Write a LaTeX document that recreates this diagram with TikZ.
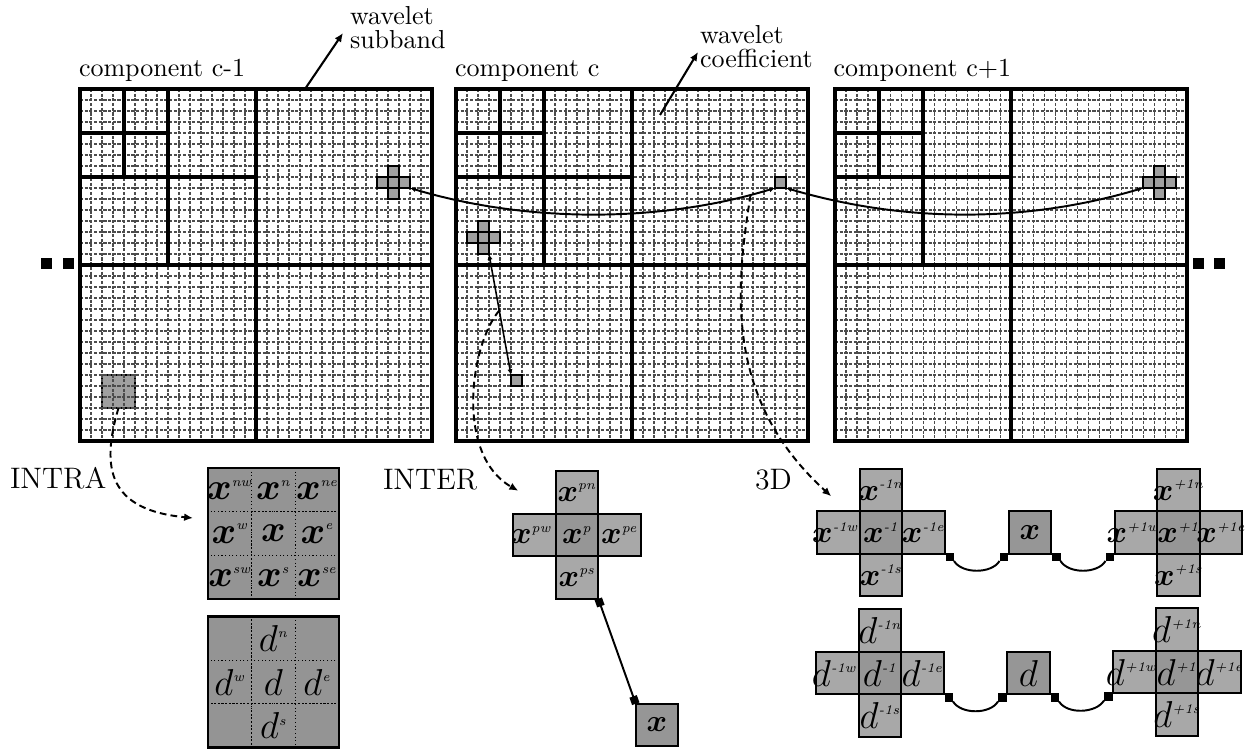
\documentclass[tikz,border=0pt]{standalone}
\usepackage{amsmath}
\usetikzlibrary{arrows.meta}

% one drawing unit = one pixel of a 1248 x 750 sheet, y grows downwards
\def\pxu{0.3846pt}
\newcommand\sps[1]{\mbox{\fontsize{5.2}{6}\selectfont\itshape #1}}
\newcommand\bx[1]{$\boldsymbol{x}^{\sps{#1}}$}
\newcommand\bd[1]{$d^{\sps{#1}}$}

\definecolor{cellhi}{RGB}{168,168,168}
\definecolor{cellmid}{RGB}{150,150,150}
\definecolor{intrafill}{RGB}{148,148,148}
\definecolor{smallcell}{RGB}{160,160,160}

\tikzset{
  every node/.style={inner sep=0pt, outer sep=0pt},
  panelbox/.style={draw, line width=1.7pt, minimum size={352*\pxu}},
  gridln/.style={black!70, line width=0.4pt, dash pattern=on 1.2pt off 0.6pt},
  subband/.style={line width=1.3pt},
  pcell/.style={draw, line width=0.55pt, fill=smallcell, minimum size={11*\pxu}},
  bigcell/.style={draw, line width=0.8pt, fill=cellhi, minimum size={42.5*\pxu}, font=\fontsize{13}{15}\selectfont},
  midcell/.style={bigcell, fill=cellmid},
  xcell/.style={font=\fontsize{12.3}{15}\selectfont},
  dcell/.style={font=\fontsize{14}{17}\selectfont},
  intracell/.style={draw, densely dotted, line width=0.4pt, fill=intrafill, minimum size={43.67*\pxu}, font=\fontsize{15.5}{18}\selectfont},
  intraframe/.style={draw, line width=0.9pt, minimum size={131*\pxu}},
  knob/.style={fill, minimum size={8.5*\pxu}},
  dotbox/.style={fill, minimum size={11*\pxu}},
  tiptwo/.style={{Latex[length=2.2pt,width=2pt]}-{Latex[length=2.2pt,width=2pt]}},
  link/.style={line width=0.75pt},
  finelink/.style={line width=0.6pt},
  sqends/.style={{Square[length=3pt,width=3pt]}-{Square[length=3pt,width=3pt]}},
  dashlink/.style={line width=0.75pt, dash pattern=on 2.6pt off 1.6pt, -{Latex[length=3.4pt,width=3pt]}},
  callout/.style={line width=0.8pt, -{Latex[length=3.4pt,width=3pt]}},
  caption/.style={font=\fontsize{11.4}{13}\selectfont, anchor=base west},
  comptitle/.style={anchor=base west},
  twoline/.style={anchor=north west, align=left, font=\fontsize{10}{9.3}\selectfont},
}

% grid of 32 x 32 coefficients with three decomposition levels
\newcommand\wavepanel[2]{%
  \foreach \k in {1,...,31}{
    \draw[gridln] (#2+\k*11, 89) -- (#2+\k*11, 441);
    \draw[gridln] (#2, 89+\k*11) -- (#2+352, 89+\k*11);
  }
  \draw[subband] (#2+176,89) -- (#2+176,441) (#2,265) -- (#2+352,265)
     (#2+88,89) -- (#2+88,265) (#2,177) -- (#2+176,177)
     (#2+44,89) -- (#2+44,177) (#2,133) -- (#2+88,133);
  \node[panelbox] (#1) at (#2+176, 265) {};
}

% four-neighbour cross of single coefficients inside a panel
\newcommand\smallcross[3]{%
  \node[pcell] (#1-c) at (#2,#3) {};
  \node[pcell] (#1-n) at (#2,#3-11) {};
  \node[pcell] (#1-s) at (#2,#3+11) {};
  \node[pcell] (#1-w) at (#2-11,#3) {};
  \node[pcell] (#1-e) at (#2+11,#3) {};
}

% enlarged cross: centre, north, west, east, south, extra style
\newcommand\bigcross[9]{%
  \node[midcell,#9] (#1-c) at (#2,#3) {\makebox[0pt]{#4}};
  \node[bigcell,#9] (#1-n) at (#2,#3-42.5) {\makebox[0pt]{#5}};
  \node[bigcell,#9] (#1-w) at (#2-42.5,#3) {\makebox[0pt]{#6\kern2.4pt}};
  \node[bigcell,#9] (#1-e) at (#2+42.5,#3) {\makebox[0pt]{#7}};
  \node[bigcell,#9] (#1-s) at (#2,#3+42.5) {\makebox[0pt]{#8}};
}

\begin{document}
\begin{tikzpicture}[x=0.3846pt, y=-0.3846pt]
\useasboundingbox (0,0) rectangle (1248,750);

% ---------- component panels ----------
\node[pcell, line width=0.7pt, minimum size={33*\pxu}] (p1blk) at (118.5,391.5) {};
\wavepanel{p1}{80}
\wavepanel{p2}{456}
\wavepanel{p3}{835}

\node[comptitle] (t1) at (79,76.5) {component c-1};
\node[comptitle] (t2) at (455,76.5) {component c};
\node[comptitle] (t3) at (833.5,76.5) {component c+1};

\smallcross{p1x}{393.5}{182.5}
\smallcross{p3x}{1159.5}{182.5}
\smallcross{p2x}{483.5}{237.5}
\node[pcell] (p2coef) at (780.5,182.5) {};
\node[pcell] (p2chi) at (516.5,380.5) {};

% continuation marks
\node[dotbox] (dl1) at (46.5,263.5) {};
\node[dotbox] (dl2) at (68,263.5) {};
\node[dotbox] (dr1) at (1198,263) {};
\node[dotbox] (dr2) at (1219.5,263) {};

% ---------- callouts ----------
\node[twoline] (lsub) at (350,6) {wavelet\\subband};
\node[twoline] (lcoef) at (700,25) {wavelet\\coefficient};
\coordinate (subfoot) at (305,89);
\coordinate (subtip) at (343,33);
\coordinate (coeffoot) at (660,115);
\coordinate (coeftip) at (698,52);
\draw[callout] (subfoot) -- (subtip);
\draw[callout] (coeffoot) -- (coeftip);

% ---------- links between coefficients ----------
\draw[link,tiptwo] (p2coef.south west) .. controls (660,223) and (527,223) .. (p1x-e.south east)
   coordinate[pos=0.07] (tap3d);
\draw[link,tiptwo] (p2coef.south east) .. controls (905,223) and (1025,223) .. (p3x-w.south west);
\draw[finelink,tiptwo] (p2chi.north west) -- (p2x-s.south east) coordinate[pos=0.533] (tapinter);

% ---------- INTRA neighbourhood ----------
\node[intracell] (ia-nw) at (229.83,489.83) {\bx{nw}};
\node[intracell] (ia-n)  at (273.5,489.83)  {\bx{n}};
\node[intracell] (ia-ne) at (317.17,489.83) {\bx{ne}};
\node[intracell] (ia-w)  at (229.83,533.5)  {\bx{w}};
\node[intracell] (ia-c)  at (273.5,533.5)   {$\boldsymbol{x}$};
\node[intracell] (ia-e)  at (317.17,533.5)  {\bx{e}};
\node[intracell] (ia-sw) at (229.83,577.17) {\bx{sw}};
\node[intracell] (ia-s)  at (273.5,577.17)  {\bx{s}};
\node[intracell] (ia-se) at (317.17,577.17) {\bx{se}};
\node[intraframe] (intrax) at (273.5,533.5) {};

\node[intracell] (ib-nw) at (229.83,638.33) {};
\node[intracell] (ib-n)  at (273.5,638.33)  {\bd{n}};
\node[intracell] (ib-ne) at (317.17,638.33) {};
\node[intracell] (ib-w)  at (229.83,682)    {\bd{w}};
\node[intracell] (ib-c)  at (273.5,682)     {$d$};
\node[intracell] (ib-e)  at (317.17,682)    {\bd{e}};
\node[intracell] (ib-sw) at (229.83,725.67) {};
\node[intracell] (ib-s)  at (273.5,725.67)  {\bd{s}};
\node[intracell] (ib-se) at (317.17,725.67) {};
\node[intraframe] (intrad) at (273.5,682) {};

% ---------- INTER neighbourhood ----------
\bigcross{ie}{577}{535}{\bx{p}}{\bx{pn}}{\bx{pw}}{\bx{pe}}{\bx{ps}}{}
\node[midcell] (ie-x) at (657,725) {$\boldsymbol{x}$};
\draw[link,sqends] (ie-s.south east) -- (ie-x.north west);

% ---------- 3D neighbourhood ----------
\bigcross{tm}{881}{532.5}{\bx{-1}}{\bx{-1n}}{\bx{-1w}}{\bx{-1e}}{\bx{-1s}}{xcell}
\node[midcell] (tx) at (1030,532.5) {$\boldsymbol{x}$};
\bigcross{tp}{1178.5}{532.5}{\bx{+1}}{\bx{+1n}}{\bx{+1w}}{\bx{+1e}}{\bx{+1s}}{xcell}

\bigcross{dm}{880}{673}{\bd{-1}}{\bd{-1n}}{\bd{-1w}}{\bd{-1e}}{\bd{-1s}}{dcell}
\node[midcell,dcell] (td) at (1028.5,673) {$d$};
\bigcross{dp}{1177}{672}{\bd{+1}}{\bd{+1n}}{\bd{+1w}}{\bd{+1e}}{\bd{+1s}}{dcell}

\node[knob] (k1) at ([shift={(5,3)}]tm-e.south east) {};
\node[knob] (k2) at ([shift={(-5,3)}]tx.south west) {};
\node[knob] (k3) at ([shift={(5,3)}]tx.south east) {};
\node[knob] (k4) at ([shift={(-5,3)}]tp-w.south west) {};
\draw[link] (k1.south east) .. controls +(8,13) and +(-8,13) .. (k2.south west);
\draw[link] (k3.south east) .. controls +(8,13) and +(-8,13) .. (k4.south west);

\node[knob] (k5) at ([shift={(5,3)}]dm-e.south east) {};
\node[knob] (k6) at ([shift={(-5,3)}]td.south west) {};
\node[knob] (k7) at ([shift={(5,3)}]td.south east) {};
\node[knob] (k8) at ([shift={(-5,3)}]dp-w.south west) {};
\draw[link] (k5.south east) .. controls +(8,13) and +(-8,13) .. (k6.south west);
\draw[link] (k7.south east) .. controls +(8,13) and +(-8,13) .. (k8.south west);

% ---------- mode captions and dashed pointers ----------
\node[caption] (cintra) at (10,488.5) {INTRA};
\node[caption] (cinter) at (383,489.5) {INTER};
\node[caption] (c3d) at (755,489.5) {3D};

\draw[dashlink] (p1blk.south) .. controls (100,470) and (110,510) .. ([shift={(-15,-15.5)}]intrax.west);
\draw[dashlink] (tapinter) .. controls (470,345) and (455,455) .. ([shift={(5,-23)}]ie-w.north west);
\draw[dashlink] (tap3d) .. controls (735,290) and (725,400) .. ([shift={(14,-15)}]tm-w.north west);

\end{tikzpicture}
\end{document}
